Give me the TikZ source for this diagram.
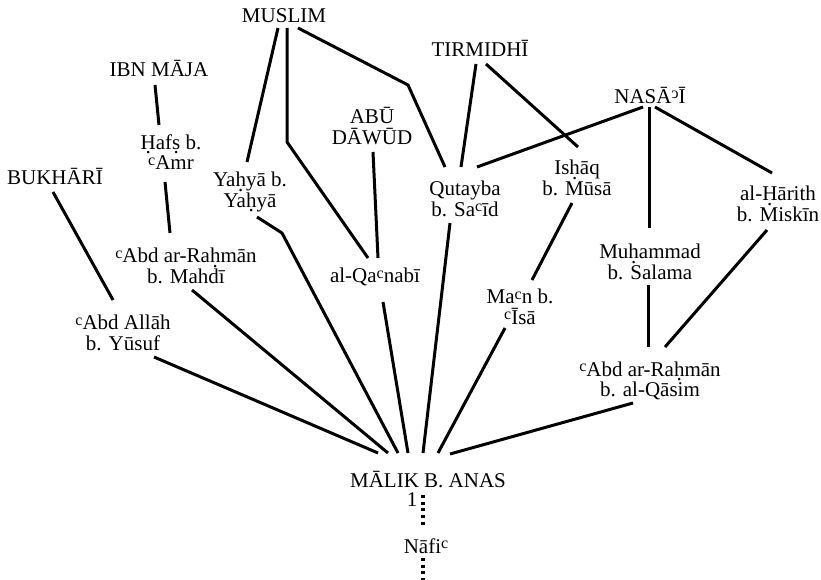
\documentclass[tikz,border=0pt]{standalone}
\usepackage{fontspec}
\setmainfont{Liberation Serif}
\usepackage{graphicx}
\usetikzlibrary{calc}
% transliteration helpers: ayn, hamza, dot below a letter
\newcommand\ayn{\raisebox{4.5pt}{\fontsize{16}{16}\selectfont c}}
\newcommand\hmz{\raisebox{5pt}{\fontsize{16}{16}\selectfont\reflectbox{c}}}
\newcommand\dotb[1]{\ooalign{#1\cr\hidewidth\raisebox{-4.5pt}{.}\hidewidth\cr}}
\newcommand\whofont{\fontsize{21}{20.5}\selectfont\lineskiplimit=-50pt\relax}
\begin{document}
\begin{tikzpicture}[x=1pt,y=-1pt,
  who/.style={font=\whofont, align=center, inner sep=0pt},
  tie/.style={line width=3pt},
  isnad/.style={line width=3.2pt, dash pattern=on 3pt off 3.7pt}]
\useasboundingbox (0,0) rectangle (821,580);

% collectors and transmitters
\node[who] (muslim)   at (284,16)  {MUSLIM};
\node[who] (ibnmaja)  at (159,68)  {IBN MĀJA};
\node[who] (bukhari)  at (55,176)  {BUKHĀRĪ};
\node[who] (hafs)     at (171,152) {\dotb{H}af\dotb{s} b.\\\ayn Amr};
\node[who] (yahya)    at (250,192) {Ya\dotb{h}yā b.\\Ya\dotb{h}yā};
\node[who] (abudawud) at (372,126) {ABŪ\\DĀWŪD};
\node[who] (abdmahdi) at (186,266) {\ayn Abd ar-Ra\dotb{h}mān\\b. Mahdī};
\node[who] (qanabi)   at (375,277) {al-Qa\ayn nabī};
\node[who] (abdallah) at (123,333) {\ayn Abd Allāh\\b. Yūsuf};
\node[who] (tirmidhi) at (480,48)  {TIRMIDHĪ};
\node[who] (nasai)    at (650,95)  {NASĀ\hmz Ī};
\node[who] (qutayba)  at (465,199) {Qutayba\\b. Sa\ayn īd};
\node[who] (ishaq)    at (577,178) {Is\dotb{h}āq\\b. Mūsā};
\node[who] (harith)   at (778,204) {al-\dotb{H}ārith\\b. Miskīn};
\node[who] (muhammad) at (650,262) {Mu\dotb{h}ammad\\b. Salama};
\node[who] (man)      at (520,307) {Ma\ayn n b.\\\ayn Īsā};
\node[who] (abdqasim) at (650,381) {\ayn Abd ar-Ra\dotb{h}mān\\b. al-Qāsim};
\node[who] (malik)    at (428,480) {MĀLIK B. ANAS};
\node[who] (one)      at (412,500) {1};
\node[who] (nafi)     at (426,546) {Nāfi\ayn};
\coordinate (below) at (423,580);

% lines of transmission
\draw[tie] ($(muslim)+(-6,12)$) -- ($(yahya)+(-3,-30)$);
\draw[tie] ($(muslim)+(3,12)$) -- ($(muslim)+(3,126)$) -- ($(qanabi)+(-7,-19)$);
\draw[tie] ($(muslim)+(14,12)$) -- ($(muslim)+(124,69)$) -- ($(qutayba)+(-20,-32)$);
\draw[tie] ($(abudawud)+(1,26)$) -- ($(qanabi)+(3,-19)$);
\draw[tie] ($(ibnmaja)+(-4,17)$) -- ($(hafs)+(-12,-27)$);
\draw[tie] ($(hafs)+(-6,30)$) -- ($(abdmahdi)+(-16,-33)$);
\draw[tie] ($(bukhari)+(-2,16)$) -- ($(abdallah)+(-10,-33)$);
\draw[tie] ($(yahya)+(7,25)$) -- ($(yahya)+(32,41)$) -- ($(malik)+(-30,-27)$);
\draw[tie] ($(abdmahdi)+(6,24)$) -- ($(malik)+(-40,-27)$);
\draw[tie] ($(abdallah)+(31,24)$) -- ($(malik)+(-50,-27)$);
\draw[tie] ($(qanabi)+(8,25)$) -- ($(malik)+(-20,-27)$);
\draw[tie] ($(qutayba)+(-15,24)$) -- ($(malik)+(-5,-27)$);
\draw[tie] ($(man)+(-15,21)$) -- ($(malik)+(10,-27)$);
\draw[tie] ($(abdqasim)+(-17,22)$) -- ($(malik)+(22,-26)$);
\draw[tie] ($(muhammad)+(-2,23)$) -- ($(abdqasim)+(-2,-34)$);
\draw[tie] ($(harith)+(-11,26)$) -- ($(abdqasim)+(15,-34)$);
\draw[tie] ($(nasai)+(-7,12)$) -- ($(qutayba)+(12,-32)$);
\draw[tie] ($(nasai)+(-1,12)$) -- ($(muhammad)+(-1,-34)$);
\draw[tie] ($(nasai)+(5,12)$) -- ($(harith)+(-6,-31)$);
\draw[tie] ($(tirmidhi)+(-4,16)$) -- ($(qutayba)+(-4,-32)$);
\draw[tie] ($(tirmidhi)+(6,16)$) -- ($(ishaq)+(1,-31)$);
\draw[tie] ($(ishaq)+(-5,25)$) -- ($(man)+(12,-27)$);

% the single chain below Malik
\draw[isnad] ($(malik)+(-5,15)$) -- ($(nafi)+(-3,-18)$);
\draw[isnad] ($(nafi)+(-3,12)$) -- (below);
\end{tikzpicture}
\end{document}
